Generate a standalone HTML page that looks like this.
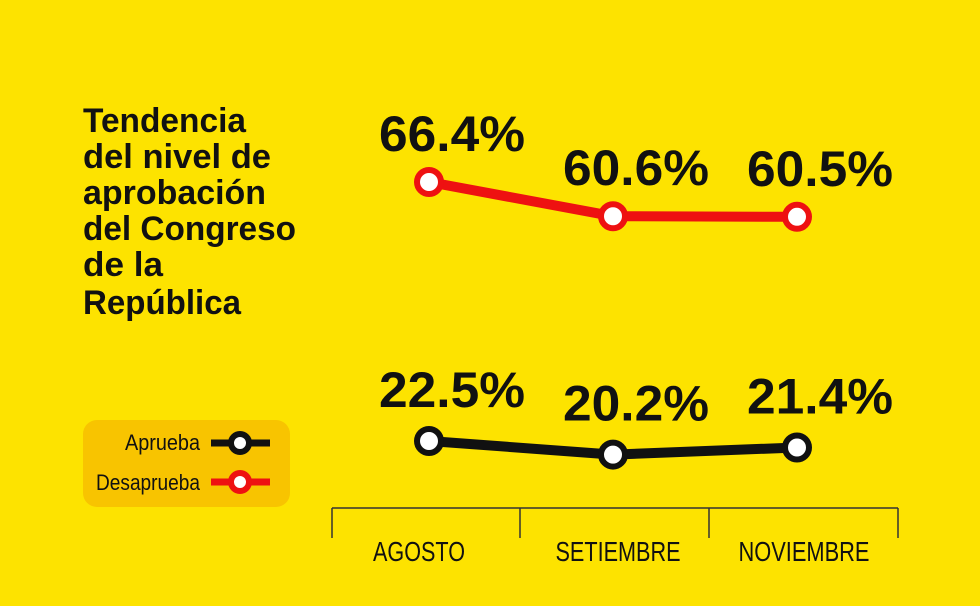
<!DOCTYPE html>
<html><head><meta charset="utf-8"><style>
html,body{margin:0;padding:0;background:#fde300;}
svg{display:block}
text{font-family:"Liberation Sans Narrow","Liberation Sans",sans-serif;}
</style></head><body>
<svg width="980" height="606" viewBox="0 0 980 606">
<rect width="980" height="606" fill="#fde300"/>
<g font-weight="bold" font-size="34" fill="#111">
<text x="83" y="132" textLength="163" lengthAdjust="spacingAndGlyphs">Tendencia</text>
<text x="83" y="168" textLength="188" lengthAdjust="spacingAndGlyphs">del nivel de</text>
<text x="83" y="204" textLength="183" lengthAdjust="spacingAndGlyphs">aprobación</text>
<text x="83" y="240" textLength="213" lengthAdjust="spacingAndGlyphs">del Congreso</text>
<text x="83" y="276" textLength="80" lengthAdjust="spacingAndGlyphs">de la</text>
<text x="83" y="314" textLength="158" lengthAdjust="spacingAndGlyphs">República</text>
</g>
<g>
<rect x="83" y="420" width="207" height="87" rx="14" fill="#f8c400"/>
<g>
<text x="125" y="450" font-size="22" fill="#111" textLength="75" lengthAdjust="spacingAndGlyphs">Aprueba</text>
<line x1="211" y1="443" x2="270" y2="443" stroke="#111" stroke-width="7"/>
<circle cx="240" cy="443" r="9" fill="#fff" stroke="#111" stroke-width="6"/>
</g>
<g>
<text x="96" y="490" font-size="22" fill="#111" textLength="104" lengthAdjust="spacingAndGlyphs">Desaprueba</text>
<line x1="211" y1="482" x2="270" y2="482" stroke="#ee1111" stroke-width="7"/>
<circle cx="240" cy="482" r="9" fill="#fff" stroke="#ee1111" stroke-width="6"/>
</g>
</g>
<g id="axis"></g>
<g id="series"></g>
</svg>
<script>
const months = ["AGOSTO","SETIEMBRE","NOVIEMBRE"];
const desaprueba = [66.4, 60.6, 60.5];
const aprueba = [22.5, 20.2, 21.4];
const valueLabelsDes = ["66.4%","60.6%","60.5%"];
const valueLabelsApr = ["22.5%","20.2%","21.4%"];

const NS="http://www.w3.org/2000/svg";
function xPos(i){return 429 + i*184;}
function yPos(v){return 182 - (v-66.4)*5.9;}
function mk(tag,attrs,parent){const e=document.createElementNS(NS,tag);for(const k in attrs)e.setAttribute(k,attrs[k]);parent.appendChild(e);return e;}

const axis=document.getElementById('axis');
const line=mk('line',{x1:332,y1:508,x2:898,y2:508,stroke:'#333','stroke-width':1.5},axis);


[332,520,709,898].forEach((tx)=>{
  const t=mk('line',{x1:tx,y1:508,x2:tx,y2:538,stroke:'#333','stroke-width':1.5},axis);
  
  
});
const labelWidths=[92,125,131];
const labelOffsets=[-10,5,7];
months.forEach((m,i)=>{
  const t=mk('text',{x:xPos(i)+labelOffsets[i],y:561,'text-anchor':'middle','font-size':28,fill:'#111',textLength:labelWidths[i],lengthAdjust:'spacingAndGlyphs'},axis);
  t.textContent=m;
  
  
});

const series=document.getElementById('series');
function drawSeries(vals,labels,color,name,dy){
  const g=mk('g',{},series);
  
  
  const pts=vals.map((v,i)=>xPos(i)+','+yPos(v)).join(' ');
  const pl=mk('polyline',{points:pts,fill:'none',stroke:color,'stroke-width':10,'stroke-linejoin':'round'},g);
  
  
  vals.forEach((v,i)=>{
    const c=mk('circle',{cx:xPos(i),cy:yPos(v),r:12,fill:'#fff',stroke:color,'stroke-width':6},g);
    
    
    const t=mk('text',{x:xPos(i)+23,y:yPos(v)-dy,'text-anchor':'middle','font-size':50,'font-weight':'bold',fill:'#111',textLength:146,lengthAdjust:'spacingAndGlyphs'},g);
    t.textContent=labels[i];
    
    
  });
}
drawSeries(desaprueba,valueLabelsDes,'#ee1111','desaprueba',31);
drawSeries(aprueba,valueLabelsApr,'#111','aprueba',34);
</script>
</body></html>
